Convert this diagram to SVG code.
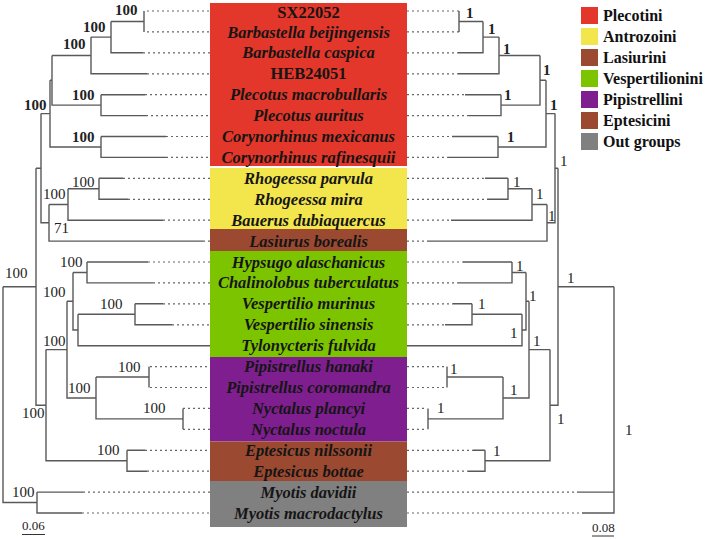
<svg xmlns="http://www.w3.org/2000/svg" width="709" height="539" viewBox="0 0 709 539">
<style>
.br{fill:none;stroke:#595959;stroke-width:1.4}
.dt{fill:none;stroke:#666;stroke-width:1.2;stroke-dasharray:2 3}
.tx{font-family:"Liberation Serif",serif;font-size:16.5px;font-weight:bold;font-style:italic;fill:#151515;text-anchor:middle}
.tn{font-style:normal}
.bs{font-family:"Liberation Serif",serif;font-size:15px;fill:#222}
.bb{font-weight:bold}
.lg{font-family:"Liberation Serif",serif;font-size:16px;font-weight:bold;fill:#111}
.sc{font-family:"Liberation Serif",serif;font-size:13px;fill:#222}
</style>
<rect width="709" height="539" fill="#fff"/>
<g id="boxes">
<rect x="210" y="3" width="197" height="163" fill="#E2372A"/>
<rect x="210" y="168" width="197" height="61" fill="#F2E64C"/>
<rect x="210" y="229" width="197" height="22" fill="#9B4A31"/>
<rect x="210" y="251" width="197" height="106" fill="#7DC400"/>
<rect x="210" y="357" width="197" height="84.5" fill="#7F1F8F"/>
<rect x="210" y="441.5" width="197" height="39.5" fill="#9B4A31"/>
<rect x="210" y="481" width="197" height="46" fill="#808080"/>
</g>
<g id="connectors">
<!-- left dotted -->
<path class="dt" d="M147 11H210M147 31.9H210M143 52.8H210M147 73.8H210M145 94.7H210M146 115.6H210M166 136.5H210M166 157.4H210M123 178.3H210M128 199.3H210M163 220.2H210M203 241.1H210M148 262H210M153 282.9H210M163 303.8H210M172 324.8H210M150 366.6H210M150 387.5H210M183 408.4H210M183 429.3H210M145 450.3H210M147 471.2H210M83 492.1H210M82 513H210"/>
<!-- left solid -->
<path class="br" d="M144 11V31.9M111 21.45H144M111 21.45V52.8H143M91 37.1H111M91 37.1V73.8H147M101 94.7H145M101 94.7V115.6H146M52 55.45H91M52 55.45V105.15H101M101 136.5H166M101 136.5V157.4H166M50 80.3H52M50 80.3V146.95H101M99 178.3H123M99 178.3V199.3H128M68 188.8H99M68 188.8V220.2H163M49 204.5H68M49 204.5V241.1H203M41 113.6H50M41 113.6V222.8H49M87 262H148M87 262V282.9H153M135 303.8H163M135 303.8V324.8H172M78 314.3H135M78 314.3V345.7H210M73 272.45H87M73 272.45V330H78M149 366.6V387.5M183 408.4V429.3M96 377.05H149M96 377.05V418.85H183M67 301.2H73M67 301.2V397.95H96M127 450.3H145M127 450.3V471.2H147M46 349.6H67M46 349.6V460.75H127M36 168.2H41M36 168.2V405.2H46M37 492.1H83M37 492.1V513H82M3 286.7H36M3 286.7V502.55H37"/>
<!-- right dotted -->
<path class="dt" d="M407 11H459M407 31.9H459M407 52.8H458M407 73.8H458M407 94.7H465M407 115.6H469M407 136.5H452M407 157.4H448M407 178.3H485M407 199.3H487M407 220.2H451M407 241.1H427M407 262H463M407 282.9H458M407 303.8H453M407 324.8H445M407 366.6H446M407 387.5H446M407 408.4H427M407 429.3H427M407 450.3H473M407 471.2H468M407 492.1H577M407 513H582"/>
<!-- right solid -->
<path class="br" d="M459 11V31.9M459 21.45H483M483 21.45V52.8H458M483 37.1H499M499 37.1V73.8H458M465 94.7H501M501 94.7V115.6H469M499 55.45H540M540 55.45V105.15H501M452 136.5H498M498 136.5V157.4H448M540 80.3H546M546 80.3V146.95H498M485 178.3H508M508 178.3V199.3H487M508 188.8H532M532 188.8V220.2H451M532 204.5H547M547 204.5V241.1H427M546 113.6H555M555 113.6V222.8H547M463 262H512M512 262V282.9H458M453 303.8H472M472 303.8V324.8H445M472 314.3H522M522 314.3V345.7H407M512 272.45H526M526 272.45V330H522M447 366.6V387.5M428 408.4V429.3M447 377.05H503M503 377.05V418.85H428M526 301.2H529M529 301.2V397.95H503M473 450.3H485M485 450.3V471.2H468M529 349.6H550M550 349.6V460.75H485M555 168.2H558M558 168.2V405.2H550M558 286.7H614M614 286.7V513H582M577 492.1H614"/>
</g>
<g id="bootstrap-left">
<text class="bs bb" x="115" y="15">100</text>
<text class="bs bb" x="83" y="32">100</text>
<text class="bs bb" x="63" y="48.5">100</text>
<text class="bs bb" x="72" y="100">100</text>
<text class="bs bb" x="72" y="142">100</text>
<text class="bs bb" x="24" y="110">100</text>
<text class="bs" x="72" y="186.5">100</text>
<text class="bs" x="43" y="199">100</text>
<text class="bs" x="54" y="233">71</text>
<text class="bs" x="5" y="278">100</text>
<text class="bs" x="60" y="267">100</text>
<text class="bs" x="43" y="297">100</text>
<text class="bs" x="100" y="308.5">100</text>
<text class="bs" x="43" y="346">100</text>
<text class="bs" x="118" y="372">100</text>
<text class="bs" x="68" y="393">100</text>
<text class="bs" x="22" y="418">100</text>
<text class="bs" x="143" y="413">100</text>
<text class="bs" x="97" y="455">100</text>
<text class="bs" x="12" y="497">100</text>
</g>
<g id="bootstrap-right">
<text class="bs bb" x="466" y="18">1</text>
<text class="bs bb" x="488" y="33.5">1</text>
<text class="bs bb" x="503" y="53.5">1</text>
<text class="bs bb" x="543" y="75">1</text>
<text class="bs bb" x="504" y="100">1</text>
<text class="bs bb" x="550" y="110">1</text>
<text class="bs bb" x="507" y="142">1</text>
<text class="bs" x="560" y="166">1</text>
<text class="bs" x="513" y="186.5">1</text>
<text class="bs" x="536" y="198.5">1</text>
<text class="bs" x="548" y="220.5">1</text>
<text class="bs" x="516" y="270.5">1</text>
<text class="bs" x="529" y="301">1</text>
<text class="bs" x="478" y="309">1</text>
<text class="bs" x="510" y="338">1</text>
<text class="bs" x="533" y="345.5">1</text>
<text class="bs" x="567" y="282.5">1</text>
<text class="bs" x="450" y="373.5">1</text>
<text class="bs" x="437" y="413">1</text>
<text class="bs" x="510" y="395">1</text>
<text class="bs" x="557" y="423.5">1</text>
<text class="bs" x="493" y="455.5">1</text>
<text class="bs" x="625" y="435">1</text>
</g>
<g id="taxa">
<g id="t0"><text class="tx tn" x="308.5" y="18">SX22052</text></g>
<g id="t1"><text class="tx" x="308.5" y="37.5">Barbastella beijingensis</text></g>
<g id="t2"><text class="tx" x="308.5" y="58.3">Barbastella caspica</text></g>
<g id="t3"><text class="tx tn" x="308.5" y="79.3">HEB24051</text></g>
<g id="t4"><text class="tx" x="308.5" y="100.2">Plecotus macrobullaris</text></g>
<g id="t5"><text class="tx" x="308.5" y="121.1">Plecotus auritus</text></g>
<g id="t6"><text class="tx" x="308.5" y="142">Corynorhinus mexicanus</text></g>
<g id="t7"><text class="tx" x="308.5" y="162.9">Corynorhinus rafinesquii</text></g>
<g id="t8"><text class="tx" x="308.5" y="183.8">Rhogeessa parvula</text></g>
<g id="t9"><text class="tx" x="308.5" y="204.8">Rhogeessa mira</text></g>
<g id="t10"><text class="tx" x="308.5" y="225.7">Bauerus dubiaquercus</text></g>
<g id="t11"><text class="tx" x="308.5" y="246.6">Lasiurus borealis</text></g>
<g id="t12"><text class="tx" x="308.5" y="267.5">Hypsugo alaschanicus</text></g>
<g id="t13"><text class="tx" x="308.5" y="288.4">Chalinolobus tuberculatus</text></g>
<g id="t14"><text class="tx" x="308.5" y="309.3">Vespertilio murinus</text></g>
<g id="t15"><text class="tx" x="308.5" y="330.3">Vespertilio sinensis</text></g>
<g id="t16"><text class="tx" x="308.5" y="351.2">Tylonycteris fulvida</text></g>
<g id="t17"><text class="tx" x="308.5" y="372.1">Pipistrellus hanaki</text></g>
<g id="t18"><text class="tx" x="308.5" y="393">Pipistrellus coromandra</text></g>
<g id="t19"><text class="tx" x="308.5" y="413.9">Nyctalus plancyi</text></g>
<g id="t20"><text class="tx" x="308.5" y="434.8">Nyctalus noctula</text></g>
<g id="t21"><text class="tx" x="308.5" y="455.8">Eptesicus nilssonii</text></g>
<g id="t22"><text class="tx" x="308.5" y="476.7">Eptesicus bottae</text></g>
<g id="t23"><text class="tx" x="308.5" y="497.6">Myotis davidii</text></g>
<g id="t24"><text class="tx" x="308.5" y="518.5">Myotis macrodactylus</text></g>
</g>
<g id="legend">
<g id="lg1"><rect x="581" y="7" width="17" height="17" fill="#E2372A"/><text class="lg" x="603" y="21">Plecotini</text></g>
<g id="lg2"><rect x="581" y="28" width="17" height="17" fill="#F2E64C"/><text class="lg" x="603" y="42">Antrozoini</text></g>
<g id="lg3"><rect x="581" y="49" width="17" height="17" fill="#9B4A31"/><text class="lg" x="603" y="63">Lasiurini</text></g>
<g id="lg4"><rect x="581" y="70" width="17" height="17" fill="#7DC400"/><text class="lg" x="603" y="84">Vespertilionini</text></g>
<g id="lg5"><rect x="581" y="91" width="17" height="17" fill="#7F1F8F"/><text class="lg" x="603" y="105">Pipistrellini</text></g>
<g id="lg6"><rect x="581" y="112" width="17" height="17" fill="#9B4A31"/><text class="lg" x="603" y="126">Eptesicini</text></g>
<g id="lg7"><rect x="581" y="133" width="17" height="17" fill="#808080"/><text class="lg" x="603" y="147">Out groups</text></g>
</g>
<g id="scales">
<text class="sc" x="22" y="530">0.06</text>
<line x1="22" y1="534.5" x2="45" y2="534.5" stroke="#333" stroke-width="1"/>
<text class="sc" x="592" y="532">0.08</text>
<line x1="592" y1="536" x2="614" y2="536" stroke="#333" stroke-width="1"/>
</g>
</svg>
